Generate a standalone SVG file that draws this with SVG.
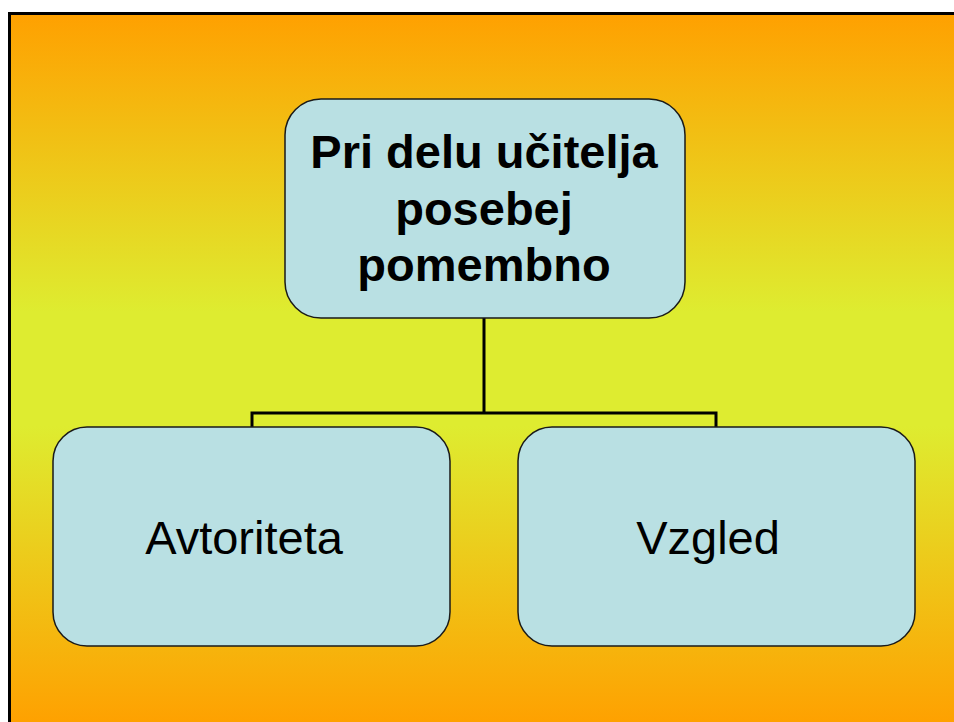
<svg xmlns="http://www.w3.org/2000/svg" width="954" height="722" viewBox="0 0 954 722">
<defs>
<linearGradient id="bg" gradientUnits="userSpaceOnUse" x1="0" y1="12" x2="0" y2="726">
<stop offset="0" stop-color="#FFA000"/>
<stop offset="0.42" stop-color="#DEEC30"/>
<stop offset="0.58" stop-color="#DEEC30"/>
<stop offset="1" stop-color="#FFA000"/>
</linearGradient>
<style>
.node{fill:#B9E0E3;stroke:#1a1a1a;stroke-width:1.5}
.conn{fill:none;stroke:#000;stroke-width:3}
.t{font-family:"Liberation Sans",Arial,sans-serif;font-size:47px;fill:#000;text-anchor:middle}
.b{font-weight:bold}
</style>
</defs>
<rect x="0" y="0" width="954" height="722" fill="#fff"/>
<rect x="9.5" y="13.5" width="1000" height="760" fill="url(#bg)" stroke="#000" stroke-width="3"/>
<g id="connectors">
<path class="conn" d="M484 318 V413 M252 427 V413 H716 V427"/>
</g>
<g id="node-top">
<rect class="node" x="285" y="99" width="400" height="219" rx="36"/>
<text class="t b" x="484" y="168">Pri delu učitelja</text>
<text class="t b" x="484" y="225">posebej</text>
<text class="t b" x="484" y="281">pomembno</text>
</g>
<g id="node-avtoriteta">
<rect class="node" x="53" y="427" width="397" height="219" rx="34"/>
<text class="t" x="244" y="554">Avtoriteta</text>
</g>
<g id="node-vzgled">
<rect class="node" x="518" y="427" width="397" height="219" rx="34"/>
<text class="t" x="708" y="554">Vzgled</text>
</g>
</svg>
